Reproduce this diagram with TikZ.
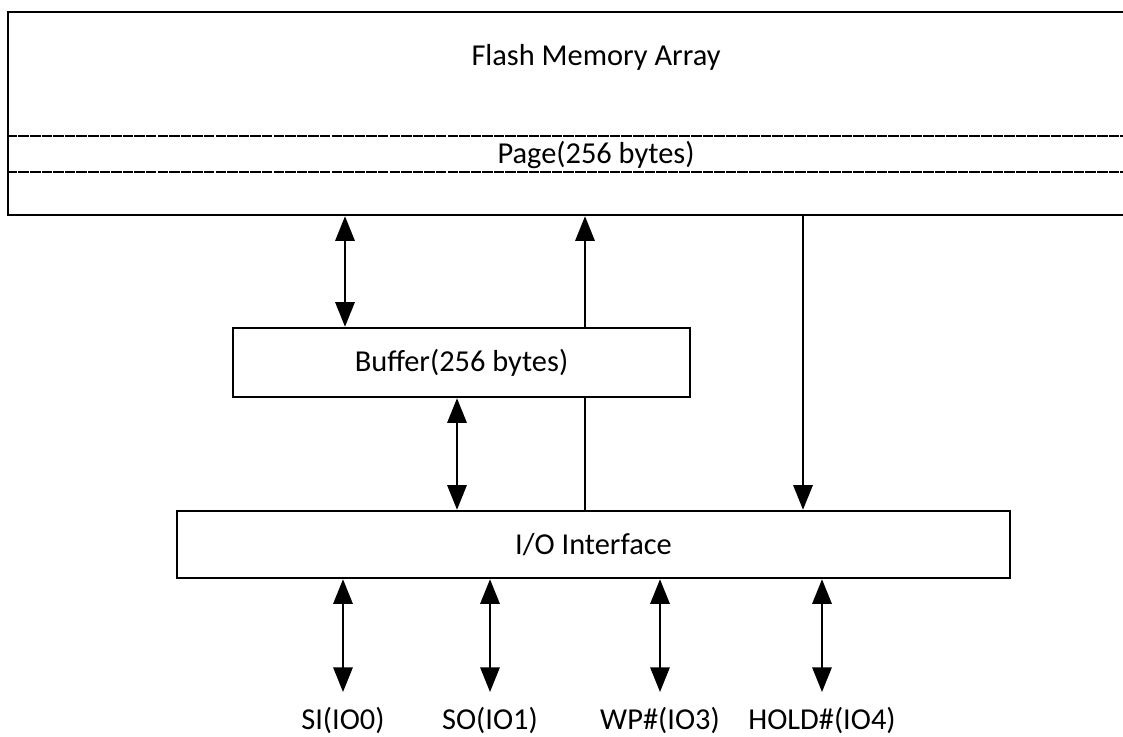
\documentclass[tikz,border=0pt]{standalone}
\usepackage{fontspec}
\setmainfont{Carlito}
\usetikzlibrary{arrows.meta}

\tikzset{
  block/.style={draw, line width=1.4pt, fill=white, inner sep=0pt},
  lbl/.style={anchor=north, inner sep=0pt, outer ysep=0.3cm},
  pageline/.style={line width=1.4pt, dash pattern=on 6pt off 0.6pt}
}

\begin{document}
\begin{tikzpicture}[font=\fontsize{17.3}{20}\selectfont, line width=1.1pt, >={Triangle[length=14pt,width=11pt]}]
\useasboundingbox (0,0) rectangle (22.46,14.72);
\clip (0,0) rectangle (22.46,14.72);

% Flash memory array
\node[block, minimum width=23.54cm, minimum height=4.06cm] (flash) at (11.93,12.45) {};
\node (array) at (11.92,13.58) {Flash Memory Array};
\node (page) at (11.92,11.62) {Page(256 bytes)};
\coordinate (pgtop) at (0,12.0);
\coordinate (pgbot) at (0,11.28);
\draw[pageline] (flash.west |- pgtop) -- (flash.east |- pgtop);
\draw[pageline] (flash.west |- pgbot) -- (flash.east |- pgbot);

% Buffer and I/O
\node[block, minimum width=9.14cm, minimum height=1.38cm] (buffer) at (9.23,7.47) {Buffer(256 bytes)};
\node[block, minimum width=16.66cm, minimum height=1.34cm] (io) at (11.87,3.83) {I/O Interface};

% Columns
\coordinate (rw) at (6.9,0);
\coordinate (bio) at (9.14,0);
\coordinate (prog) at (11.7,0);
\coordinate (rd) at (16.06,0);

\draw[<->] (flash.south -| rw) -- (buffer.north -| rw);
\draw[<->] (buffer.south -| bio) -- (io.north -| bio);
\draw (io.north -| prog) -- (buffer.south -| prog);
\draw[->] (buffer.north -| prog) -- (flash.south -| prog);
\draw[->] (flash.south -| rd) -- (io.north -| rd);

% Pins
\node[lbl] (si) at (6.86,0.88) {SI(IO0)};
\node[lbl] (so) at (9.8,0.88) {SO(IO1)};
\node[lbl] (wp) at (13.2,0.88) {WP\#(IO3)};
\node[lbl] (hold) at (16.44,0.88) {HOLD\#(IO4)};

\foreach \p in {si,so,wp,hold}
  \draw[<->] (io.south -| \p) -- (\p.north);

\end{tikzpicture}
\end{document}
